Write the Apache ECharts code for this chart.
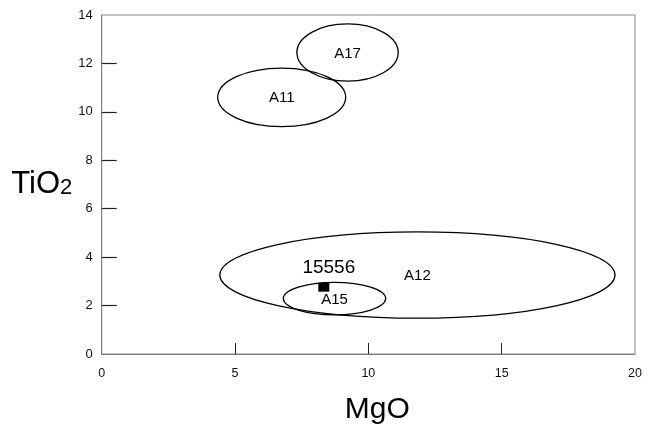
<!DOCTYPE html>
<html>
<head>
<meta charset="utf-8">
<script src="https://cdn.jsdelivr.net/npm/echarts@6/dist/echarts.min.js"></script>
<style>
html,body{margin:0;padding:0;background:#fff;}
#main{width:651px;height:430px;}
</style>
</head>
<body>
<div id="main"></div>
<script>
// Field ellipses: name, centre MgO, centre TiO2, half-width (MgO), half-height (TiO2)
var fieldNames = ['A17', 'A11', 'A12', 'A15'];
var fieldCx    = [9.22, 6.75, 11.84, 8.73];
var fieldCy    = [12.45, 10.6, 3.26, 2.29];
var fieldRx    = [1.9, 2.4, 7.41, 1.92];
var fieldRy    = [1.18, 1.21, 1.78, 0.67];

// Sample point
var sampleNames = ['15556'];
var sampleMgO   = [8.33];
var sampleTiO2  = [2.76];

var xTicks = [0, 5, 10, 15, 20];
var yTicks = [0, 2, 4, 6, 8, 10, 12, 14];
var xTickMarks = [5, 10, 15];
var yTickMarks = [2, 4, 6, 8, 10, 12];

var ellipseData = fieldNames.map(function (n, i) {
  return { name: n, value: [fieldCx[i], fieldCy[i], fieldRx[i], fieldRy[i]] };
});
var sampleData = sampleNames.map(function (n, i) {
  return { name: n, value: [sampleMgO[i], sampleTiO2[i]] };
});

var chart = echarts.init(document.getElementById('main'), null, { renderer: 'canvas' });
var font = 'Arial, "Liberation Sans", sans-serif';

chart.setOption({
  animation: false,
  backgroundColor: '#fff',
  grid: { left: 101.7, right: 16, top: 15, bottom: 74, show: true, borderColor: '#8a8a8a', borderWidth: 1 },
  xAxis: {
    type: 'value', min: xTicks[0], max: xTicks[xTicks.length - 1], interval: 5,
    splitLine: { show: false },
    axisLine: { show: true, onZero: false, lineStyle: { color: '#7a7a7a', width: 1 } },
    axisTick: { show: true, inside: true, length: 11, customValues: xTickMarks, lineStyle: { color: '#222', width: 1 } },
    axisLabel: { color: '#111', fontSize: 12.5, fontFamily: font, margin: 13, customValues: xTicks },
    name: 'MgO', nameLocation: 'middle', nameGap: 41,
    nameTextStyle: { color: '#000', fontSize: 30, fontFamily: font, padding: [0, 0, 0, 18] }
  },
  yAxis: {
    type: 'value', min: yTicks[0], max: yTicks[yTicks.length - 1], interval: 2,
    splitLine: { show: false },
    axisLine: { show: true, onZero: false, lineStyle: { color: '#7a7a7a', width: 1 } },
    axisTick: { show: true, inside: true, length: 15, customValues: yTickMarks, lineStyle: { color: '#222', width: 1.2 } },
    axisLabel: { color: '#111', fontSize: 13, fontFamily: font, margin: 9, customValues: yTicks },
    name: '{a|TiO}{b|2}', nameLocation: 'middle', nameGap: 25, nameRotate: 0,
    nameTextStyle: {
      align: 'right', verticalAlign: 'middle',
      rich: {
        a: { fontSize: 31, fontFamily: font, color: '#000' },
        b: { fontSize: 22, fontFamily: font, color: '#000', padding: [6, 0, 0, 0] }
      }
    }
  },
  series: [
    {
      type: 'custom',
      data: ellipseData,
      renderItem: function (params, api) {
        var c = api.coord([api.value(0), api.value(1)]);
        var s = api.size([api.value(2), api.value(3)]);
        return {
          type: 'group',
          children: [
            {
              type: 'ellipse',
              shape: { cx: c[0], cy: c[1], rx: s[0], ry: s[1] },
              style: { fill: null, stroke: '#000', lineWidth: 1.3 }
            },
            {
              type: 'text',
              x: c[0], y: c[1] + 1,
              style: {
                text: fieldNames[params.dataIndex],
                x: 0, y: 0,
                align: 'center', verticalAlign: 'middle',
                fontSize: 15, fontFamily: font, fill: '#000'
              }
            }
          ]
        };
      },
      z: 2
    },
    {
      type: 'scatter',
      data: sampleData,
      symbol: 'rect',
      symbolSize: [11, 9],
      itemStyle: { color: '#000', opacity: 1 },
      label: {
        show: true, position: 'top', distance: 5, offset: [5, 0],
        formatter: function (p) { return p.name; },
        fontSize: 19, fontFamily: font, color: '#000'
      },
      z: 3
    }
  ]
});
</script>
</body>
</html>
